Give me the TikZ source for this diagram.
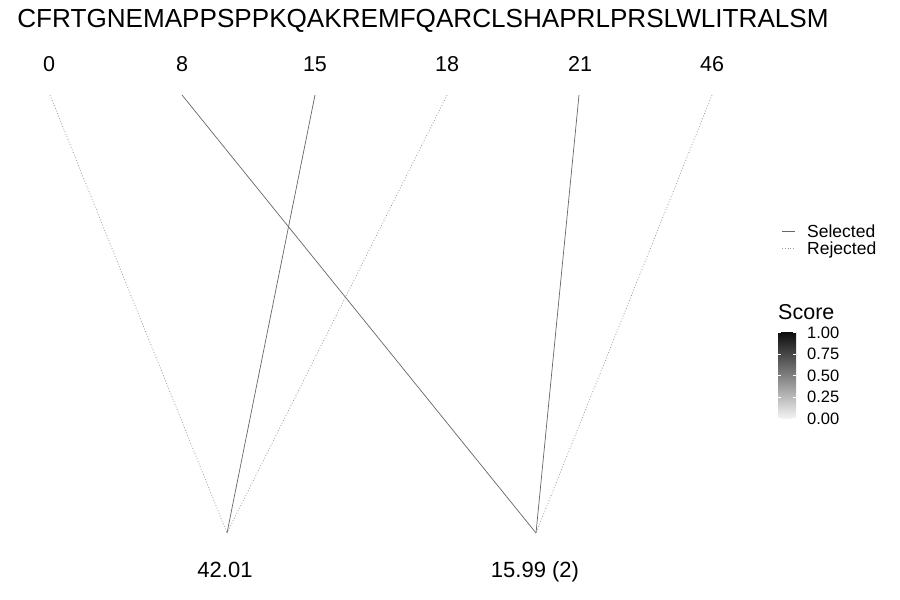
\documentclass[tikz,border=0pt]{standalone}
\usepackage{fontspec}
\setmainfont{Liberation Sans}
\begin{document}
\begin{tikzpicture}[x=1pt,y=-1pt,
  lbl/.style={inner sep=0pt,anchor=base,font=\fontsize{21.5}{22}\selectfont},
  blbl/.style={inner sep=0pt,anchor=base,font=\fontsize{22}{22}\selectfont},
  sel/.style={draw=black!60,line width=0.7pt},
  rej/.style={draw=black!40,line width=0.8pt,dotted},
  leg/.style={inner sep=0pt,anchor=base west,font=\fontsize{17.5}{18}\selectfont},
  tick/.style={inner sep=0pt,anchor=west,font=\fontsize{16.5}{17}\selectfont}]
\useasboundingbox (0,0) rectangle (900,600);
\node[inner sep=0pt,font=\fontsize{26.1}{26}\selectfont] (title) at (423,21) {CFRTGNEMAPPSPPKQAKREMFQARCLSHAPRLPRSLWLITRALSM};
\node[lbl] (l0) at (49,71) {0};
\node[lbl] (l8) at (182,71) {8};
\node[lbl] (l15) at (315,71) {15};
\node[lbl] (l18) at (447,71) {18};
\node[lbl] (l21) at (580,71) {21};
\node[lbl] (l46) at (712,71) {46};
\coordinate (t0) at (50,95);
\coordinate (t8) at (182,95);
\coordinate (t15) at (315,95);
\coordinate (t18) at (447,95);
\coordinate (t21) at (579,95);
\coordinate (t46) at (712,95);
\coordinate (b1) at (227,533);
\coordinate (b2) at (536,533);
\node[blbl] (s1) at (225,577) {42.01};
\node[blbl] (s2) at (535,577) {15.99 (2)};
\draw[rej] (t0) -- (b1);
\draw[sel] (t15) -- (b1);
\draw[rej] (t18) -- (b1);
\draw[sel] (t8) -- (b2);
\draw[sel] (t21) -- (b2);
\draw[rej] (t46) -- (b2);
% legend
\coordinate (ls1) at (782,231);
\coordinate (ls2) at (795,231);
\coordinate (lr1) at (782,248);
\coordinate (lr2) at (795,248);
\draw[sel] (ls1) -- (ls2);
\draw[rej] (lr1) -- (lr2);
\node[leg] (selT) at (807,237) {Selected};
\node[leg] (rejT) at (807,254) {Rejected};
% score bar
\node[inner sep=0pt,anchor=west,font=\fontsize{21.5}{22}\selectfont] (scoreT) at (778,312) {Score};
\shade[top color=black!95,bottom color=black!5] (778,332) rectangle (796,418);
\foreach \v/\y in {1.00/332.5,0.75/354,0.50/375.5,0.25/397,0.00/418.5}{
  \draw[white,line width=0.6pt] (778,\y) -- (781,\y);
  \draw[white,line width=0.6pt] (793,\y) -- (796,\y);
  \node[tick] at (807,\y) {\v};
}
\end{tikzpicture}
\end{document}
